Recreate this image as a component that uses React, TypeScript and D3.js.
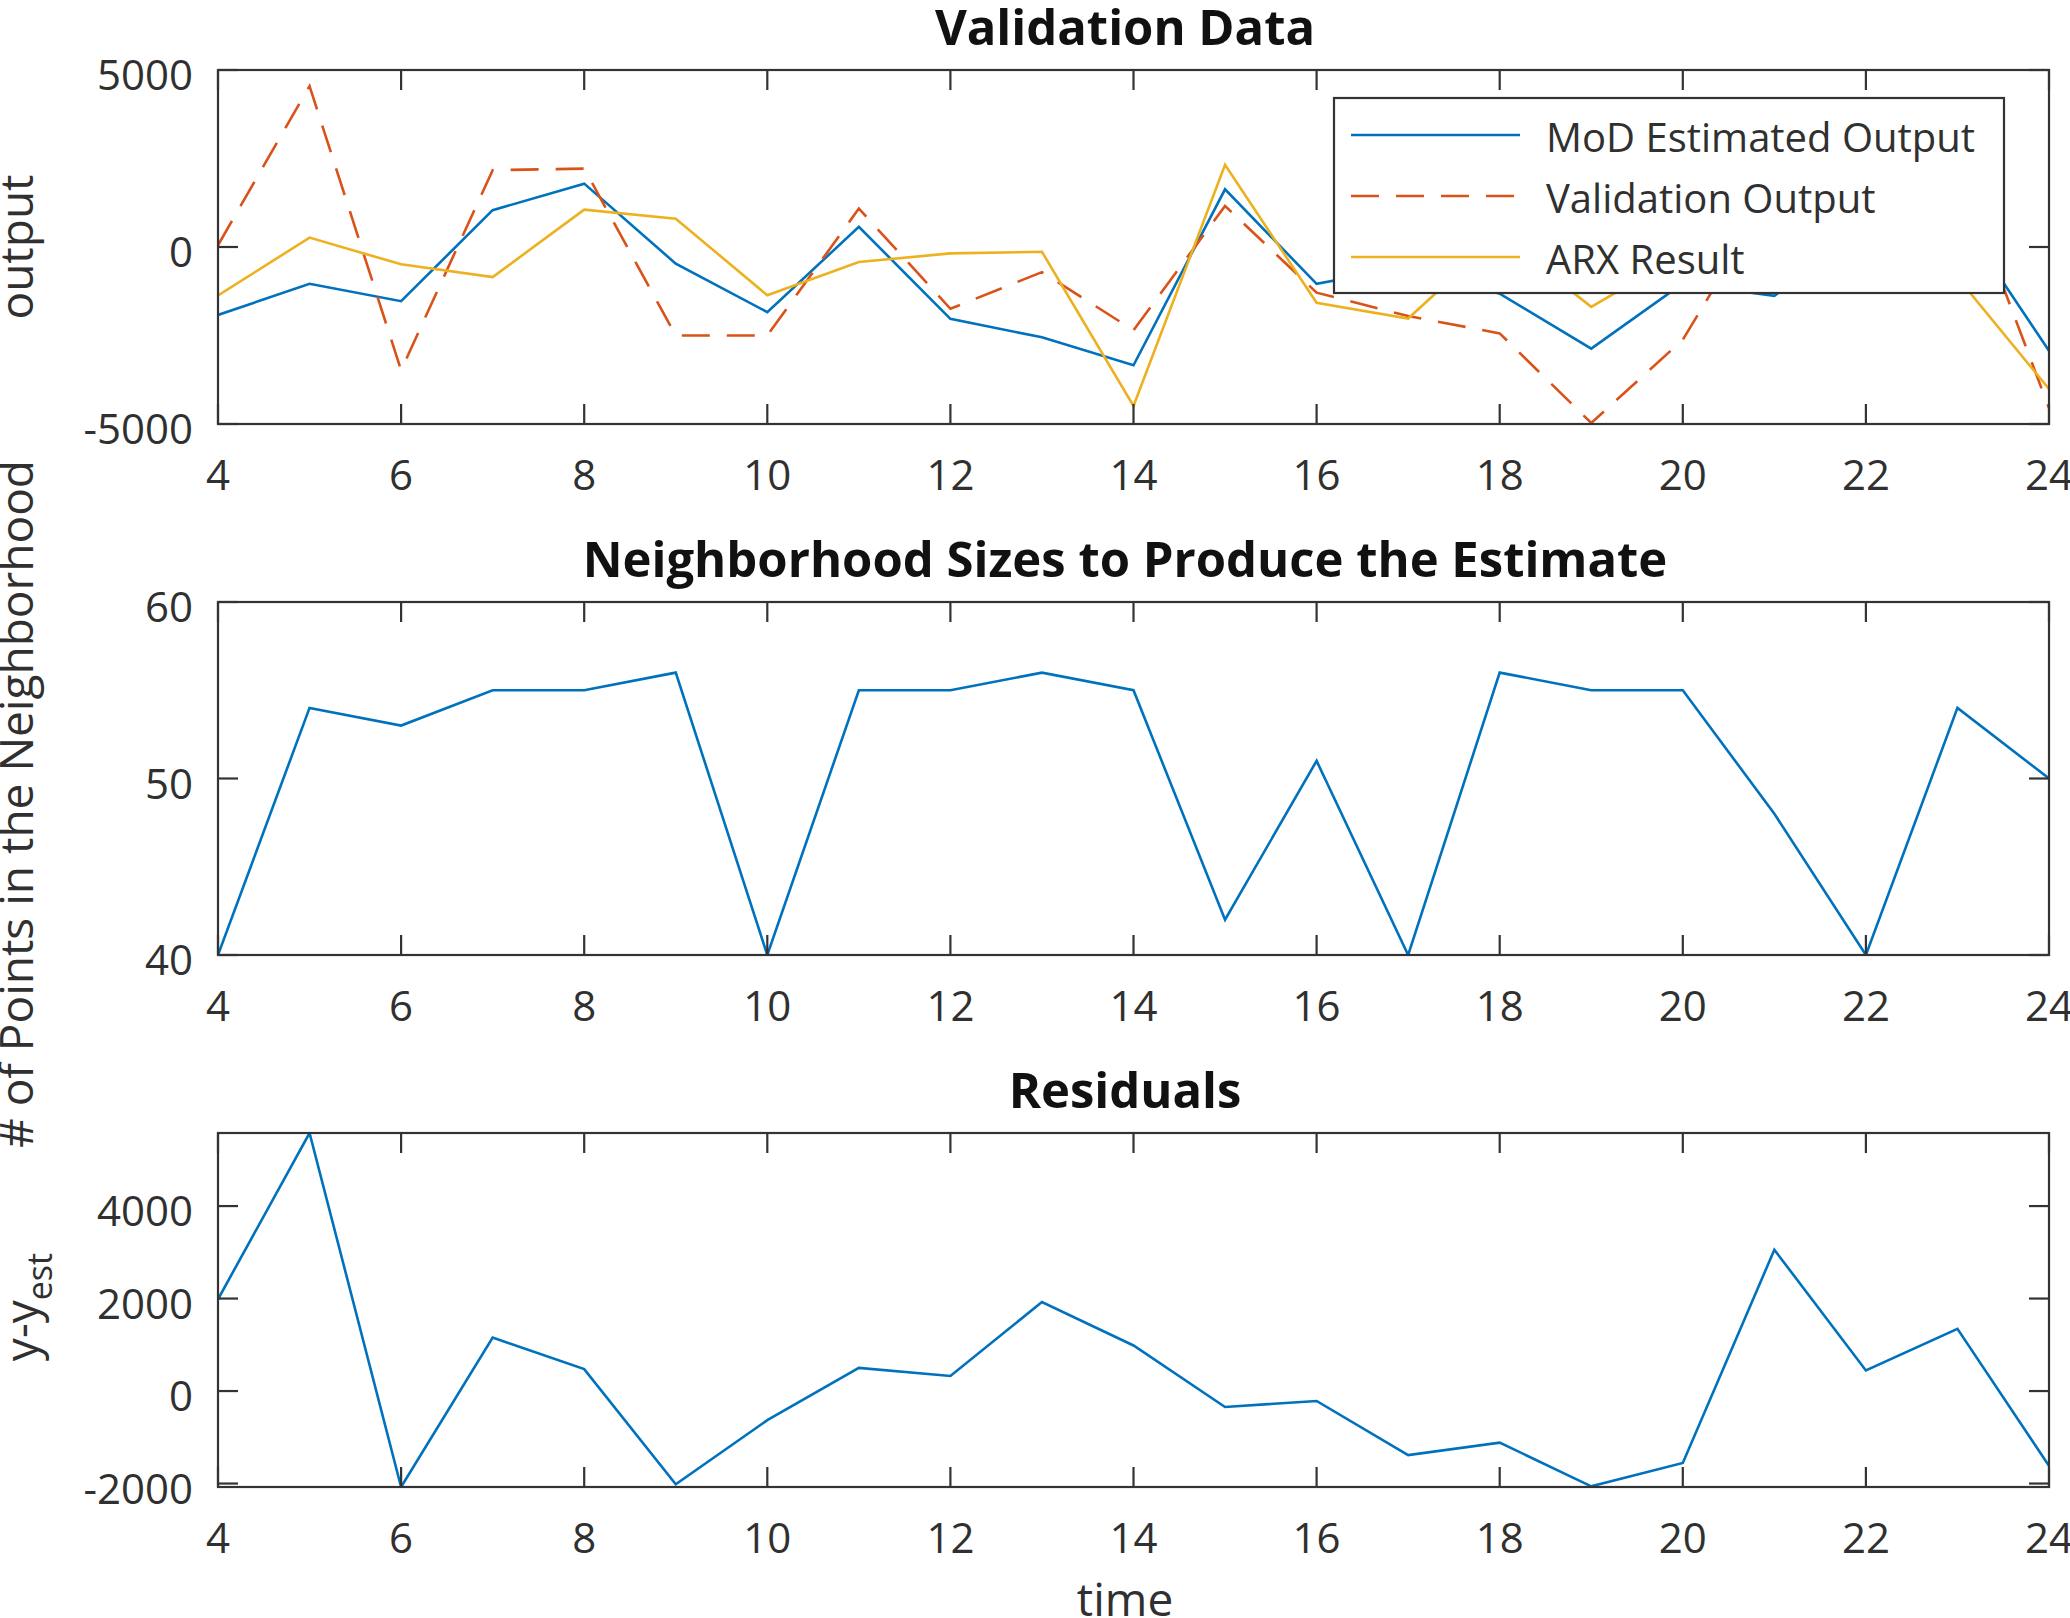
import React from "react";
import * as d3 from "d3";

// ---------- data ----------
const time = [4, 5, 6, 7, 8, 9, 10, 11, 12, 13, 14, 15, 16, 17, 18, 19, 20, 21, 22, 23, 24];
const modEstimated = [-1920, -1040, -1530, 1040, 1790, -470, -1840, 570, -2030, -2550, -3340, 1630, -1040, -560, -1320, -2870, -1030, -1380, 500, 930, -2930];
const validationOutput = [50, 4545, -3480, 2170, 2215, -2500, -2500, 1085, -1745, -710, -2350, 1160, -1290, -1950, -2440, -4970, -2620, 1660, 950, 2300, -4550];
const arxResult = [-1370, 265, -490, -850, 1055, 800, -1365, -425, -180, -135, -4490, 2320, -1575, -2020, 350, -1690, -180, 200, 600, -860, -4010];
const neighborhoodSize = [40, 54, 53, 55, 55, 56, 40, 55, 55, 56, 55, 42, 51, 40, 56, 55, 55, 48, 40, 54, 50];
const residuals = [1985, 5580, -2075, 1155, 475, -2015, -630, 500, 325, 1925, 985, -345, -215, -1385, -1115, -2060, -1555, 3055, 445, 1345, -1615];

const xTicks = [4, 6, 8, 10, 12, 14, 16, 18, 20, 22, 24];
const yTicksOutput = [-5000, 0, 5000];
const yTicksNeighborhood = [40, 50, 60];
const yTicksResidual = [-2000, 0, 2000, 4000];
const legendLabels = ["MoD Estimated Output", "Validation Output", "ARX Result"];
const titles = ["Validation Data", "Neighborhood Sizes to Produce the Estimate", "Residuals"];

// ---------- style ----------
const W = 2070;
const H = 1618;
const FONT = "'Open Sans', 'Noto Sans', sans-serif";
const AX = "#333333";
const TXT = "#303030";
const C_BLUE = "#0072BD";
const C_RED = "#D95319";
const C_YEL = "#EDB120";
const LEFT = 218;
const RIGHT = 2049;
const TICK = 20;

const x = d3.scaleLinear().domain([4, 24]).range([LEFT, RIGHT]);

type Series = { values: number[]; color: string; dash?: string };

function Panel(props: {
  id: string;
  top: number;
  bottom: number;
  domain: [number, number];
  yTicks: number[];
  series: Series[];
  title: string;
}) {
  const { id, top, bottom, domain, yTicks, series, title } = props;
  const y = d3.scaleLinear().domain(domain).range([bottom, top]);
  const line = d3
    .line<number>()
    .x((_, i) => x(time[i]))
    .y((d) => y(d));
  return (
    <g>
      <defs>
        <clipPath id={id}>
          <rect x={LEFT} y={top} width={RIGHT - LEFT} height={bottom - top} />
        </clipPath>
      </defs>
      <text
        x={1125}
        y={top - 25}
        textAnchor="middle"
        fontFamily={FONT}
        fontWeight={700}
        fontSize={49}
        fill="#111"
      >
        {title}
      </text>
      <g clipPath={`url(#${id})`}>
        {series.map((s, k) => (
          <path
            key={k}
            d={line(s.values) || ""}
            fill="none"
            stroke={s.color}
            strokeWidth={2.6}
            strokeDasharray={s.dash}
            strokeLinejoin="miter"
          />
        ))}
      </g>
      {/* ticks */}
      {xTicks.map((t) => (
        <g key={"x" + t}>
          <line x1={x(t)} x2={x(t)} y1={bottom} y2={bottom - TICK} stroke={AX} strokeWidth={2.2} />
          <line x1={x(t)} x2={x(t)} y1={top} y2={top + TICK} stroke={AX} strokeWidth={2.2} />
          <text
            x={x(t)}
            y={bottom + 66}
            textAnchor="middle"
            fontFamily={FONT}
            fontSize={42}
            fill={TXT}
          >
            {t}
          </text>
        </g>
      ))}
      {yTicks.map((t) => (
        <g key={"y" + t}>
          <line x1={LEFT} x2={LEFT + TICK} y1={y(t)} y2={y(t)} stroke={AX} strokeWidth={2.2} />
          <line x1={RIGHT} x2={RIGHT - TICK} y1={y(t)} y2={y(t)} stroke={AX} strokeWidth={2.2} />
          <text
            x={193}
            y={y(t) + 20}
            textAnchor="end"
            fontFamily={FONT}
            fontSize={42}
            fill={TXT}
          >
            {t}
          </text>
        </g>
      ))}
      <rect
        x={LEFT}
        y={top}
        width={RIGHT - LEFT}
        height={bottom - top}
        fill="none"
        stroke={AX}
        strokeWidth={2.2}
      />
    </g>
  );
}

export default function App() {
  const resExtent = d3.extent(residuals) as [number, number];
  const legendSeries: Series[] = [
    { values: modEstimated, color: C_BLUE },
    { values: validationOutput, color: C_RED, dash: "28 17" },
    { values: arxResult, color: C_YEL },
  ];
  const legendRows = [135, 196, 257];
  return (
    <svg
      width={W}
      height={H}
      viewBox={`0 0 ${W} ${H}`}
      style={{ position: "absolute", left: 0, top: 0, background: "#fff" }}
    >
      <rect x={0} y={0} width={W} height={H} fill="#fff" />
      <Panel
        id="clipA"
        top={70}
        bottom={424}
        domain={[-5000, 5000]}
        yTicks={yTicksOutput}
        series={legendSeries}
        title={titles[0]}
      />
      <Panel
        id="clipB"
        top={602}
        bottom={955}
        domain={[40, 60]}
        yTicks={yTicksNeighborhood}
        series={[{ values: neighborhoodSize, color: C_BLUE }]}
        title={titles[1]}
      />
      <Panel
        id="clipC"
        top={1133}
        bottom={1487}
        domain={resExtent}
        yTicks={yTicksResidual}
        series={[{ values: residuals, color: C_BLUE }]}
        title={titles[2]}
      />
      {/* legend */}
      <g>
        <rect x={1334} y={98} width={670} height={195} fill="#fff" stroke={AX} strokeWidth={2.2} />
        {legendSeries.map((s, i) => (
          <g key={i}>
            <line
              x1={1351}
              x2={1520}
              y1={legendRows[i]}
              y2={legendRows[i]}
              stroke={s.color}
              strokeWidth={2.6}
              strokeDasharray={s.dash}
            />
            <text x={1546} y={legendRows[i] + 17} fontFamily={FONT} fontSize={40} fill={TXT}>
              {legendLabels[i]}
            </text>
          </g>
        ))}
      </g>
      {/* axis labels */}
      <text
        transform="translate(33,247) rotate(-90)"
        textAnchor="middle"
        fontFamily={FONT}
        fontSize={46}
        fill={TXT}
      >
        output
      </text>
      <text
        transform="translate(33,804) rotate(-90)"
        textAnchor="middle"
        fontFamily={FONT}
        fontSize={46}
        fill={TXT}
      >
        # of Points in the Neighborhood
      </text>
      <text
        transform="translate(38,1307) rotate(-90)"
        textAnchor="middle"
        fontFamily={FONT}
        fontSize={46}
        fill={TXT}
      >
        <tspan>y-y</tspan>
        <tspan dy={14} fontSize={34}>
          est
        </tspan>
      </text>
      <text x={1125} y={1616} textAnchor="middle" fontFamily={FONT} fontSize={46} fill={TXT}>
        time
      </text>
    </svg>
  );
}
